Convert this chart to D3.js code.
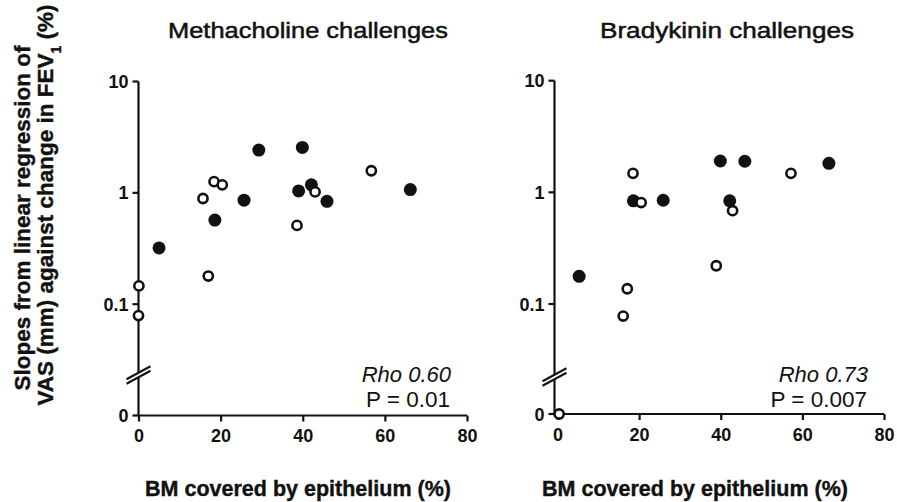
<!DOCTYPE html>
<html>
<head>
<meta charset="utf-8">
<script src="https://cdn.jsdelivr.net/npm/d3@7"></script>
<style>
  body { margin: 0; background: #fff; }
  text { font-family: "Liberation Sans", Arial, Helvetica, sans-serif; fill: #111; }
</style>
</head>
<body>
<svg width="897" height="502"></svg>
<script>
// values
var xTicks = [0, 20, 40, 60, 80];
var yTicks = [10, 1, 0.1];

var methFilledX = [5, 18.6, 25.7, 29.3, 39.9, 39.0, 42.1, 45.9, 66.2];
var methFilledY = [0.32, 0.57, 0.86, 2.42, 2.56, 1.04, 1.18, 0.84, 1.07];
var methOpenX = [0.1, 0, 15.7, 17.0, 18.4, 20.4, 38.6, 43.0, 56.7];
var methOpenY = [0.146, 0.079, 0.89, 0.179, 1.26, 1.18, 0.51, 1.02, 1.58];

var bradyFilledX = [5.3, 18.6, 25.9, 39.9, 42.2, 45.9, 66.5];
var bradyFilledY = [0.177, 0.84, 0.85, 1.91, 0.84, 1.90, 1.82];
var bradyOpenX = [0.4, 16.1, 17.1, 18.5, 20.5, 38.9, 42.9, 57.2];
var bradyOpenY = [0, 0.078, 0.137, 1.48, 0.81, 0.22, 0.685, 1.48];

var panels = [
  { title: "Methacholine challenges", rho: "Rho 0.60", p: "P = 0.01",
    fx: methFilledX, fy: methFilledY, ox: methOpenX, oy: methOpenY,
    x0: 138.5, x80: 467, y10: 81.5, y01: 304.2, yZero: 415.5, yBreak: 375, axShift: 0,
    titleX: 168, titleW: 280, labelX: 298 },
  { title: "Bradykinin challenges", rho: "Rho 0.73", p: "P = 0.007",
    fx: bradyFilledX, fy: bradyFilledY, ox: bradyOpenX, oy: bradyOpenY,
    x0: 557.5, x80: 884, y10: 80.7, y01: 304, yZero: 414, yBreak: 377, axShift: -3,
    titleX: 600, titleW: 254, labelX: 695 }
];

var svg = d3.select("svg");

panels.forEach(function(p) {
  var x = d3.scaleLinear().domain([0, 80]).range([p.x0, p.x80]);
  var yLog = d3.scaleLog().domain([0.1, 10]).range([p.y01, p.y10]);
  var y = function(v) { return v === 0 ? p.yZero : yLog(v); };
  var ax = p.x0 + p.axShift;

  var g = svg.append("g");

  // title
  g.append("text")
      .attr("x", p.titleX)
      .attr("y", 38)
      .attr("textLength", p.titleW)
      .attr("lengthAdjust", "spacingAndGlyphs")
      .attr("stroke", "#111").attr("stroke-width", 0.5)
      .style("font-size", "22px")
      .text(p.title);

  // y axis line
  g.append("line")
      .attr("x1", ax).attr("x2", ax)
      .attr("y1", p.y10).attr("y2", p.yZero)
      .attr("stroke", "#111").attr("stroke-width", 2.2);

  // x axis
  var xAxis = g.append("g")
      .attr("transform", "translate(0," + p.yZero + ")")
      .call(d3.axisBottom(x).tickValues(xTicks).tickSize(6).tickSizeOuter(0).tickPadding(8));
  xAxis.select(".domain").attr("stroke", "#111").attr("stroke-width", 2.2)
      .attr("d", "M" + ax + ",0H" + p.x80);
  xAxis.selectAll(".tick line").attr("stroke", "#111").attr("stroke-width", 2.2);
  xAxis.selectAll(".tick text")
      .style("font-family", "'Liberation Sans', Arial, sans-serif")
      .style("font-size", "18px").style("font-weight", "bold").attr("fill", "#111");

  // y ticks (log part + zero)
  var yt = yTicks.concat([0]);
  var yg = g.append("g");
  yg.selectAll("line").data(yt).enter().append("line")
      .attr("x1", ax - 6).attr("x2", ax)
      .attr("y1", y).attr("y2", y)
      .attr("stroke", "#111").attr("stroke-width", 2.2);
  yg.selectAll("text").data(yt).enter().append("text")
      .attr("x", ax - 10)
      .attr("y", function(d) { return y(d) + 6.5; })
      .attr("text-anchor", "end")
      .style("font-size", "18px").style("font-weight", "bold")
      .text(function(d) { return d === 0 ? "0" : String(d); });

  // axis break marks
  var bw = 12, bh = 6.5, gap = 4.5;
  g.append("polygon")
      .attr("points", [[ax - bw, p.yBreak + bh - gap / 2], [ax + bw, p.yBreak - bh - gap / 2],
                       [ax + bw, p.yBreak - bh + gap / 2], [ax - bw, p.yBreak + bh + gap / 2]].join(" "))
      .attr("fill", "#fff");
  [-gap / 2, gap / 2].forEach(function(o) {
    g.append("line")
        .attr("x1", ax - bw).attr("y1", p.yBreak + bh + o)
        .attr("x2", ax + bw).attr("y2", p.yBreak - bh + o)
        .attr("stroke", "#111").attr("stroke-width", 2);
  });

  // points: filled first, open on top
  g.selectAll(".filled").data(d3.range(p.fx.length)).enter().append("circle")
      .attr("class", "filled")
      .attr("cx", function(i) { return x(p.fx[i]); })
      .attr("cy", function(i) { return y(p.fy[i]); })
      .attr("r", 6.5)
      .attr("fill", "#111");
  g.selectAll(".open").data(d3.range(p.ox.length)).enter().append("circle")
      .attr("class", "open")
      .attr("cx", function(i) { return x(p.ox[i]); })
      .attr("cy", function(i) { return y(p.oy[i]); })
      .attr("r", 4.6)
      .attr("fill", "#fff")
      .attr("stroke", "#111")
      .attr("stroke-width", 2.6);

  // stats
  g.append("text")
      .attr("x", p.x80 - 16).attr("y", 382)
      .attr("text-anchor", "end")
      .style("font-size", "22px").style("font-style", "italic")
      .text(p.rho);
  g.append("text")
      .attr("x", p.x80 - 17).attr("y", 407)
      .attr("text-anchor", "end")
      .style("font-size", "22.5px")
      .text(p.p);

  // x label
  g.append("text")
      .attr("x", p.labelX)
      .attr("y", 496)
      .attr("text-anchor", "middle")
      .attr("stroke", "#111").attr("stroke-width", 0.4)
      .style("font-size", "21.5px").style("font-weight", "bold")
      .text("BM covered by epithelium (%)");
});

// shared y label
var yl = svg.append("g")
    .style("font-size", "22.5px").style("font-weight", "bold");
yl.append("text")
    .attr("transform", "translate(30,218) rotate(-90)")
    .attr("text-anchor", "middle")
    .attr("stroke", "#111").attr("stroke-width", 0.4)
    .text("Slopes from linear regression of");
var l2 = yl.append("text")
    .attr("transform", "translate(53,205) rotate(-90)")
    .attr("text-anchor", "middle")
    .attr("stroke", "#111").attr("stroke-width", 0.4);
l2.append("tspan").text("VAS (mm) against change in FEV");
l2.append("tspan").attr("baseline-shift", "sub").style("font-size", "14px").text("1");
l2.append("tspan").attr("baseline-shift", "0").text(" (%)");
</script>
</body>
</html>
